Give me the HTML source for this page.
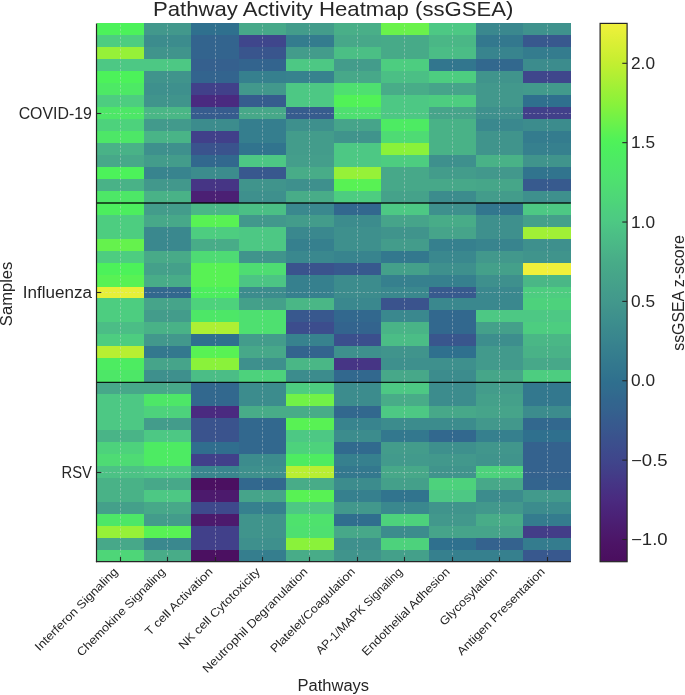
<!DOCTYPE html><html><head><meta charset="utf-8"><style>html,body{margin:0;padding:0;background:#fff;}svg{display:block;will-change:transform;}text{font-family:"Liberation Sans",sans-serif;}</style></head><body>
<svg width="685" height="695" viewBox="0 0 685 695">
<rect width="685" height="695" fill="#fff"/>
<g shape-rendering="crispEdges">
<rect x="96.50" y="23.40" width="47.73" height="12.26" fill="#4cf25a"/>
<rect x="96.50" y="35.36" width="47.73" height="12.26" fill="#4dcd80"/>
<rect x="96.50" y="47.32" width="47.73" height="12.26" fill="#96f138"/>
<rect x="96.50" y="59.28" width="47.73" height="12.26" fill="#4dc884"/>
<rect x="96.50" y="71.24" width="47.73" height="12.26" fill="#4cf25a"/>
<rect x="96.50" y="83.20" width="47.73" height="12.26" fill="#4de965"/>
<rect x="96.50" y="95.16" width="47.73" height="12.26" fill="#4dcd80"/>
<rect x="96.50" y="107.12" width="47.73" height="12.26" fill="#4de767"/>
<rect x="96.50" y="119.08" width="47.73" height="12.26" fill="#4dd27c"/>
<rect x="96.50" y="131.04" width="47.73" height="12.26" fill="#4de767"/>
<rect x="96.50" y="143.00" width="47.73" height="12.26" fill="#49b287"/>
<rect x="96.50" y="154.96" width="47.73" height="12.26" fill="#47a889"/>
<rect x="96.50" y="166.92" width="47.73" height="12.26" fill="#4cf25a"/>
<rect x="96.50" y="178.88" width="47.73" height="12.26" fill="#49b287"/>
<rect x="96.50" y="190.84" width="47.73" height="12.26" fill="#4de767"/>
<rect x="96.50" y="202.80" width="47.73" height="12.26" fill="#4cee5e"/>
<rect x="96.50" y="214.76" width="47.73" height="12.26" fill="#4dcd80"/>
<rect x="96.50" y="226.72" width="47.73" height="12.26" fill="#4dcd80"/>
<rect x="96.50" y="238.68" width="47.73" height="12.26" fill="#65f24d"/>
<rect x="96.50" y="250.64" width="47.73" height="12.26" fill="#4dcd80"/>
<rect x="96.50" y="262.60" width="47.73" height="12.26" fill="#4cf25a"/>
<rect x="96.50" y="274.56" width="47.73" height="12.26" fill="#58f254"/>
<rect x="96.50" y="286.52" width="47.73" height="12.26" fill="#e7f038"/>
<rect x="96.50" y="298.48" width="47.73" height="12.26" fill="#4dcd80"/>
<rect x="96.50" y="310.44" width="47.73" height="12.26" fill="#4dcd80"/>
<rect x="96.50" y="322.40" width="47.73" height="12.26" fill="#4bbd86"/>
<rect x="96.50" y="334.36" width="47.73" height="12.26" fill="#4dcd80"/>
<rect x="96.50" y="346.32" width="47.73" height="12.26" fill="#b8ef32"/>
<rect x="96.50" y="358.28" width="47.73" height="12.26" fill="#4dec61"/>
<rect x="96.50" y="370.24" width="47.73" height="12.26" fill="#4de767"/>
<rect x="96.50" y="382.20" width="47.73" height="12.26" fill="#47a889"/>
<rect x="96.50" y="394.16" width="47.73" height="12.26" fill="#4dc884"/>
<rect x="96.50" y="406.12" width="47.73" height="12.26" fill="#4dc884"/>
<rect x="96.50" y="418.08" width="47.73" height="12.26" fill="#4dc884"/>
<rect x="96.50" y="430.04" width="47.73" height="12.26" fill="#49b487"/>
<rect x="96.50" y="442.00" width="47.73" height="12.26" fill="#4dd27c"/>
<rect x="96.50" y="453.96" width="47.73" height="12.26" fill="#4edb74"/>
<rect x="96.50" y="465.92" width="47.73" height="12.26" fill="#4cc285"/>
<rect x="96.50" y="477.88" width="47.73" height="12.26" fill="#49b287"/>
<rect x="96.50" y="489.84" width="47.73" height="12.26" fill="#49b287"/>
<rect x="96.50" y="501.80" width="47.73" height="12.26" fill="#44a08a"/>
<rect x="96.50" y="513.76" width="47.73" height="12.26" fill="#4de767"/>
<rect x="96.50" y="525.72" width="47.73" height="12.26" fill="#96f138"/>
<rect x="96.50" y="537.68" width="47.73" height="12.26" fill="#47a889"/>
<rect x="96.50" y="549.64" width="47.73" height="12.26" fill="#4ed678"/>
<rect x="143.93" y="23.40" width="47.73" height="12.26" fill="#42988c"/>
<rect x="143.93" y="35.36" width="47.73" height="12.26" fill="#3c8c8d"/>
<rect x="143.93" y="47.32" width="47.73" height="12.26" fill="#40948c"/>
<rect x="143.93" y="59.28" width="47.73" height="12.26" fill="#4dc884"/>
<rect x="143.93" y="71.24" width="47.73" height="12.26" fill="#40948c"/>
<rect x="143.93" y="83.20" width="47.73" height="12.26" fill="#3e908d"/>
<rect x="143.93" y="95.16" width="47.73" height="12.26" fill="#40948c"/>
<rect x="143.93" y="107.12" width="47.73" height="12.26" fill="#4ab786"/>
<rect x="143.93" y="119.08" width="47.73" height="12.26" fill="#429a8c"/>
<rect x="143.93" y="131.04" width="47.73" height="12.26" fill="#49b487"/>
<rect x="143.93" y="143.00" width="47.73" height="12.26" fill="#3e908d"/>
<rect x="143.93" y="154.96" width="47.73" height="12.26" fill="#439c8b"/>
<rect x="143.93" y="166.92" width="47.73" height="12.26" fill="#38848e"/>
<rect x="143.93" y="178.88" width="47.73" height="12.26" fill="#42988c"/>
<rect x="143.93" y="190.84" width="47.73" height="12.26" fill="#49b287"/>
<rect x="143.93" y="202.80" width="47.73" height="12.26" fill="#439c8b"/>
<rect x="143.93" y="214.76" width="47.73" height="12.26" fill="#47a889"/>
<rect x="143.93" y="226.72" width="47.73" height="12.26" fill="#3a888e"/>
<rect x="143.93" y="238.68" width="47.73" height="12.26" fill="#3a888e"/>
<rect x="143.93" y="250.64" width="47.73" height="12.26" fill="#48aa88"/>
<rect x="143.93" y="262.60" width="47.73" height="12.26" fill="#44a08a"/>
<rect x="143.93" y="274.56" width="47.73" height="12.26" fill="#48ac88"/>
<rect x="143.93" y="286.52" width="47.73" height="12.26" fill="#32688e"/>
<rect x="143.93" y="298.48" width="47.73" height="12.26" fill="#46a48a"/>
<rect x="143.93" y="310.44" width="47.73" height="12.26" fill="#439c8b"/>
<rect x="143.93" y="322.40" width="47.73" height="12.26" fill="#49b287"/>
<rect x="143.93" y="334.36" width="47.73" height="12.26" fill="#42988c"/>
<rect x="143.93" y="346.32" width="47.73" height="12.26" fill="#33788e"/>
<rect x="143.93" y="358.28" width="47.73" height="12.26" fill="#46a48a"/>
<rect x="143.93" y="370.24" width="47.73" height="12.26" fill="#3e908d"/>
<rect x="143.93" y="382.20" width="47.73" height="12.26" fill="#47a889"/>
<rect x="143.93" y="394.16" width="47.73" height="12.26" fill="#4de767"/>
<rect x="143.93" y="406.12" width="47.73" height="12.26" fill="#4dd27c"/>
<rect x="143.93" y="418.08" width="47.73" height="12.26" fill="#439c8b"/>
<rect x="143.93" y="430.04" width="47.73" height="12.26" fill="#4dc884"/>
<rect x="143.93" y="442.00" width="47.73" height="12.26" fill="#4deb63"/>
<rect x="143.93" y="453.96" width="47.73" height="12.26" fill="#4deb63"/>
<rect x="143.93" y="465.92" width="47.73" height="12.26" fill="#4dc884"/>
<rect x="143.93" y="477.88" width="47.73" height="12.26" fill="#47a889"/>
<rect x="143.93" y="489.84" width="47.73" height="12.26" fill="#4dc884"/>
<rect x="143.93" y="501.80" width="47.73" height="12.26" fill="#47a889"/>
<rect x="143.93" y="513.76" width="47.73" height="12.26" fill="#439c8b"/>
<rect x="143.93" y="525.72" width="47.73" height="12.26" fill="#58f254"/>
<rect x="143.93" y="537.68" width="47.73" height="12.26" fill="#3a888e"/>
<rect x="143.93" y="549.64" width="47.73" height="12.26" fill="#48ac88"/>
<rect x="191.36" y="23.40" width="47.73" height="12.26" fill="#2f708e"/>
<rect x="191.36" y="35.36" width="47.73" height="12.26" fill="#33648e"/>
<rect x="191.36" y="47.32" width="47.73" height="12.26" fill="#33648e"/>
<rect x="191.36" y="59.28" width="47.73" height="12.26" fill="#35608e"/>
<rect x="191.36" y="71.24" width="47.73" height="12.26" fill="#33648e"/>
<rect x="191.36" y="83.20" width="47.73" height="12.26" fill="#41408a"/>
<rect x="191.36" y="95.16" width="47.73" height="12.26" fill="#4a2a80"/>
<rect x="191.36" y="107.12" width="47.73" height="12.26" fill="#365c8e"/>
<rect x="191.36" y="119.08" width="47.73" height="12.26" fill="#3c8c8d"/>
<rect x="191.36" y="131.04" width="47.73" height="12.26" fill="#41408a"/>
<rect x="191.36" y="143.00" width="47.73" height="12.26" fill="#3a538d"/>
<rect x="191.36" y="154.96" width="47.73" height="12.26" fill="#32688e"/>
<rect x="191.36" y="166.92" width="47.73" height="12.26" fill="#3c8c8d"/>
<rect x="191.36" y="178.88" width="47.73" height="12.26" fill="#463585"/>
<rect x="191.36" y="190.84" width="47.73" height="12.26" fill="#4b2074"/>
<rect x="191.36" y="202.80" width="47.73" height="12.26" fill="#4ab786"/>
<rect x="191.36" y="214.76" width="47.73" height="12.26" fill="#58f254"/>
<rect x="191.36" y="226.72" width="47.73" height="12.26" fill="#4dcd80"/>
<rect x="191.36" y="238.68" width="47.73" height="12.26" fill="#48ac88"/>
<rect x="191.36" y="250.64" width="47.73" height="12.26" fill="#4edb74"/>
<rect x="191.36" y="262.60" width="47.73" height="12.26" fill="#58f254"/>
<rect x="191.36" y="274.56" width="47.73" height="12.26" fill="#58f254"/>
<rect x="191.36" y="286.52" width="47.73" height="12.26" fill="#4cee5e"/>
<rect x="191.36" y="298.48" width="47.73" height="12.26" fill="#4dd27c"/>
<rect x="191.36" y="310.44" width="47.73" height="12.26" fill="#4de767"/>
<rect x="191.36" y="322.40" width="47.73" height="12.26" fill="#adf034"/>
<rect x="191.36" y="334.36" width="47.73" height="12.26" fill="#2f708e"/>
<rect x="191.36" y="346.32" width="47.73" height="12.26" fill="#58f254"/>
<rect x="191.36" y="358.28" width="47.73" height="12.26" fill="#8af23a"/>
<rect x="191.36" y="370.24" width="47.73" height="12.26" fill="#4bbd86"/>
<rect x="191.36" y="382.20" width="47.73" height="12.26" fill="#32688e"/>
<rect x="191.36" y="394.16" width="47.73" height="12.26" fill="#32688e"/>
<rect x="191.36" y="406.12" width="47.73" height="12.26" fill="#4a2a80"/>
<rect x="191.36" y="418.08" width="47.73" height="12.26" fill="#3a538d"/>
<rect x="191.36" y="430.04" width="47.73" height="12.26" fill="#3a538d"/>
<rect x="191.36" y="442.00" width="47.73" height="12.26" fill="#306e8e"/>
<rect x="191.36" y="453.96" width="47.73" height="12.26" fill="#41408a"/>
<rect x="191.36" y="465.92" width="47.73" height="12.26" fill="#39868e"/>
<rect x="191.36" y="477.88" width="47.73" height="12.26" fill="#4b1061"/>
<rect x="191.36" y="489.84" width="47.73" height="12.26" fill="#4c1a6d"/>
<rect x="191.36" y="501.80" width="47.73" height="12.26" fill="#3e498c"/>
<rect x="191.36" y="513.76" width="47.73" height="12.26" fill="#4c1a6d"/>
<rect x="191.36" y="525.72" width="47.73" height="12.26" fill="#41408a"/>
<rect x="191.36" y="537.68" width="47.73" height="12.26" fill="#41408a"/>
<rect x="191.36" y="549.64" width="47.73" height="12.26" fill="#4b1061"/>
<rect x="238.79" y="23.40" width="47.73" height="12.26" fill="#47a889"/>
<rect x="238.79" y="35.36" width="47.73" height="12.26" fill="#3f468c"/>
<rect x="238.79" y="47.32" width="47.73" height="12.26" fill="#39558d"/>
<rect x="238.79" y="59.28" width="47.73" height="12.26" fill="#33648e"/>
<rect x="238.79" y="71.24" width="47.73" height="12.26" fill="#36808e"/>
<rect x="238.79" y="83.20" width="47.73" height="12.26" fill="#42988c"/>
<rect x="238.79" y="95.16" width="47.73" height="12.26" fill="#365c8e"/>
<rect x="238.79" y="107.12" width="47.73" height="12.26" fill="#47a889"/>
<rect x="238.79" y="119.08" width="47.73" height="12.26" fill="#357e8e"/>
<rect x="238.79" y="131.04" width="47.73" height="12.26" fill="#357e8e"/>
<rect x="238.79" y="143.00" width="47.73" height="12.26" fill="#31748e"/>
<rect x="238.79" y="154.96" width="47.73" height="12.26" fill="#4dc884"/>
<rect x="238.79" y="166.92" width="47.73" height="12.26" fill="#38588e"/>
<rect x="238.79" y="178.88" width="47.73" height="12.26" fill="#40948c"/>
<rect x="238.79" y="190.84" width="47.73" height="12.26" fill="#3e908d"/>
<rect x="238.79" y="202.80" width="47.73" height="12.26" fill="#4bbf85"/>
<rect x="238.79" y="214.76" width="47.73" height="12.26" fill="#42988c"/>
<rect x="238.79" y="226.72" width="47.73" height="12.26" fill="#4dc884"/>
<rect x="238.79" y="238.68" width="47.73" height="12.26" fill="#4dc884"/>
<rect x="238.79" y="250.64" width="47.73" height="12.26" fill="#40948c"/>
<rect x="238.79" y="262.60" width="47.73" height="12.26" fill="#4edd72"/>
<rect x="238.79" y="274.56" width="47.73" height="12.26" fill="#4cc584"/>
<rect x="238.79" y="286.52" width="47.73" height="12.26" fill="#3c8c8d"/>
<rect x="238.79" y="298.48" width="47.73" height="12.26" fill="#44a08a"/>
<rect x="238.79" y="310.44" width="47.73" height="12.26" fill="#4ee070"/>
<rect x="238.79" y="322.40" width="47.73" height="12.26" fill="#4ee070"/>
<rect x="238.79" y="334.36" width="47.73" height="12.26" fill="#439c8b"/>
<rect x="238.79" y="346.32" width="47.73" height="12.26" fill="#47a889"/>
<rect x="238.79" y="358.28" width="47.73" height="12.26" fill="#3e908d"/>
<rect x="238.79" y="370.24" width="47.73" height="12.26" fill="#4dd27c"/>
<rect x="238.79" y="382.20" width="47.73" height="12.26" fill="#3c8c8d"/>
<rect x="238.79" y="394.16" width="47.73" height="12.26" fill="#3c8c8d"/>
<rect x="238.79" y="406.12" width="47.73" height="12.26" fill="#48ac88"/>
<rect x="238.79" y="418.08" width="47.73" height="12.26" fill="#32688e"/>
<rect x="238.79" y="430.04" width="47.73" height="12.26" fill="#32688e"/>
<rect x="238.79" y="442.00" width="47.73" height="12.26" fill="#32688e"/>
<rect x="238.79" y="453.96" width="47.73" height="12.26" fill="#3c8c8d"/>
<rect x="238.79" y="465.92" width="47.73" height="12.26" fill="#3e908d"/>
<rect x="238.79" y="477.88" width="47.73" height="12.26" fill="#32688e"/>
<rect x="238.79" y="489.84" width="47.73" height="12.26" fill="#46a48a"/>
<rect x="238.79" y="501.80" width="47.73" height="12.26" fill="#36808e"/>
<rect x="238.79" y="513.76" width="47.73" height="12.26" fill="#40948c"/>
<rect x="238.79" y="525.72" width="47.73" height="12.26" fill="#40948c"/>
<rect x="238.79" y="537.68" width="47.73" height="12.26" fill="#3e908d"/>
<rect x="238.79" y="549.64" width="47.73" height="12.26" fill="#357e8e"/>
<rect x="286.22" y="23.40" width="47.73" height="12.26" fill="#439c8b"/>
<rect x="286.22" y="35.36" width="47.73" height="12.26" fill="#347c8e"/>
<rect x="286.22" y="47.32" width="47.73" height="12.26" fill="#439c8b"/>
<rect x="286.22" y="59.28" width="47.73" height="12.26" fill="#4dc884"/>
<rect x="286.22" y="71.24" width="47.73" height="12.26" fill="#37828e"/>
<rect x="286.22" y="83.20" width="47.73" height="12.26" fill="#4dc884"/>
<rect x="286.22" y="95.16" width="47.73" height="12.26" fill="#4dc884"/>
<rect x="286.22" y="107.12" width="47.73" height="12.26" fill="#365c8e"/>
<rect x="286.22" y="119.08" width="47.73" height="12.26" fill="#3e908d"/>
<rect x="286.22" y="131.04" width="47.73" height="12.26" fill="#439c8b"/>
<rect x="286.22" y="143.00" width="47.73" height="12.26" fill="#439c8b"/>
<rect x="286.22" y="154.96" width="47.73" height="12.26" fill="#449e8b"/>
<rect x="286.22" y="166.92" width="47.73" height="12.26" fill="#48ac88"/>
<rect x="286.22" y="178.88" width="47.73" height="12.26" fill="#3e908d"/>
<rect x="286.22" y="190.84" width="47.73" height="12.26" fill="#48ac88"/>
<rect x="286.22" y="202.80" width="47.73" height="12.26" fill="#3a888e"/>
<rect x="286.22" y="214.76" width="47.73" height="12.26" fill="#439c8b"/>
<rect x="286.22" y="226.72" width="47.73" height="12.26" fill="#3a888e"/>
<rect x="286.22" y="238.68" width="47.73" height="12.26" fill="#36808e"/>
<rect x="286.22" y="250.64" width="47.73" height="12.26" fill="#3a888e"/>
<rect x="286.22" y="262.60" width="47.73" height="12.26" fill="#3a538d"/>
<rect x="286.22" y="274.56" width="47.73" height="12.26" fill="#36808e"/>
<rect x="286.22" y="286.52" width="47.73" height="12.26" fill="#36808e"/>
<rect x="286.22" y="298.48" width="47.73" height="12.26" fill="#4ab786"/>
<rect x="286.22" y="310.44" width="47.73" height="12.26" fill="#38588e"/>
<rect x="286.22" y="322.40" width="47.73" height="12.26" fill="#3c4d8d"/>
<rect x="286.22" y="334.36" width="47.73" height="12.26" fill="#37828e"/>
<rect x="286.22" y="346.32" width="47.73" height="12.26" fill="#33648e"/>
<rect x="286.22" y="358.28" width="47.73" height="12.26" fill="#4ab786"/>
<rect x="286.22" y="370.24" width="47.73" height="12.26" fill="#3c8c8d"/>
<rect x="286.22" y="382.20" width="47.73" height="12.26" fill="#4dcd80"/>
<rect x="286.22" y="394.16" width="47.73" height="12.26" fill="#71f247"/>
<rect x="286.22" y="406.12" width="47.73" height="12.26" fill="#48ac88"/>
<rect x="286.22" y="418.08" width="47.73" height="12.26" fill="#58f254"/>
<rect x="286.22" y="430.04" width="47.73" height="12.26" fill="#4dc884"/>
<rect x="286.22" y="442.00" width="47.73" height="12.26" fill="#4dd27c"/>
<rect x="286.22" y="453.96" width="47.73" height="12.26" fill="#4dec61"/>
<rect x="286.22" y="465.92" width="47.73" height="12.26" fill="#b8ef32"/>
<rect x="286.22" y="477.88" width="47.73" height="12.26" fill="#48ac88"/>
<rect x="286.22" y="489.84" width="47.73" height="12.26" fill="#58f254"/>
<rect x="286.22" y="501.80" width="47.73" height="12.26" fill="#4dc884"/>
<rect x="286.22" y="513.76" width="47.73" height="12.26" fill="#4ee26d"/>
<rect x="286.22" y="525.72" width="47.73" height="12.26" fill="#4ee070"/>
<rect x="286.22" y="537.68" width="47.73" height="12.26" fill="#8af23a"/>
<rect x="286.22" y="549.64" width="47.73" height="12.26" fill="#48ac88"/>
<rect x="333.65" y="23.40" width="47.73" height="12.26" fill="#49af88"/>
<rect x="333.65" y="35.36" width="47.73" height="12.26" fill="#47a889"/>
<rect x="333.65" y="47.32" width="47.73" height="12.26" fill="#4bbf85"/>
<rect x="333.65" y="59.28" width="47.73" height="12.26" fill="#439c8b"/>
<rect x="333.65" y="71.24" width="47.73" height="12.26" fill="#47a889"/>
<rect x="333.65" y="83.20" width="47.73" height="12.26" fill="#4ee070"/>
<rect x="333.65" y="95.16" width="47.73" height="12.26" fill="#51f257"/>
<rect x="333.65" y="107.12" width="47.73" height="12.26" fill="#4ee070"/>
<rect x="333.65" y="119.08" width="47.73" height="12.26" fill="#46a48a"/>
<rect x="333.65" y="131.04" width="47.73" height="12.26" fill="#40948c"/>
<rect x="333.65" y="143.00" width="47.73" height="12.26" fill="#4dc884"/>
<rect x="333.65" y="154.96" width="47.73" height="12.26" fill="#4dc884"/>
<rect x="333.65" y="166.92" width="47.73" height="12.26" fill="#96f138"/>
<rect x="333.65" y="178.88" width="47.73" height="12.26" fill="#58f254"/>
<rect x="333.65" y="190.84" width="47.73" height="12.26" fill="#4dcd80"/>
<rect x="333.65" y="202.80" width="47.73" height="12.26" fill="#32688e"/>
<rect x="333.65" y="214.76" width="47.73" height="12.26" fill="#3c8c8d"/>
<rect x="333.65" y="226.72" width="47.73" height="12.26" fill="#3e908d"/>
<rect x="333.65" y="238.68" width="47.73" height="12.26" fill="#3e908d"/>
<rect x="333.65" y="250.64" width="47.73" height="12.26" fill="#38848e"/>
<rect x="333.65" y="262.60" width="47.73" height="12.26" fill="#37598e"/>
<rect x="333.65" y="274.56" width="47.73" height="12.26" fill="#3c8c8d"/>
<rect x="333.65" y="286.52" width="47.73" height="12.26" fill="#3c8c8d"/>
<rect x="333.65" y="298.48" width="47.73" height="12.26" fill="#3a888e"/>
<rect x="333.65" y="310.44" width="47.73" height="12.26" fill="#32688e"/>
<rect x="333.65" y="322.40" width="47.73" height="12.26" fill="#33648e"/>
<rect x="333.65" y="334.36" width="47.73" height="12.26" fill="#3b4f8d"/>
<rect x="333.65" y="346.32" width="47.73" height="12.26" fill="#3e908d"/>
<rect x="333.65" y="358.28" width="47.73" height="12.26" fill="#463585"/>
<rect x="333.65" y="370.24" width="47.73" height="12.26" fill="#32688e"/>
<rect x="333.65" y="382.20" width="47.73" height="12.26" fill="#3c8c8d"/>
<rect x="333.65" y="394.16" width="47.73" height="12.26" fill="#3c8c8d"/>
<rect x="333.65" y="406.12" width="47.73" height="12.26" fill="#32688e"/>
<rect x="333.65" y="418.08" width="47.73" height="12.26" fill="#38848e"/>
<rect x="333.65" y="430.04" width="47.73" height="12.26" fill="#3c8c8d"/>
<rect x="333.65" y="442.00" width="47.73" height="12.26" fill="#316a8e"/>
<rect x="333.65" y="453.96" width="47.73" height="12.26" fill="#36808e"/>
<rect x="333.65" y="465.92" width="47.73" height="12.26" fill="#33788e"/>
<rect x="333.65" y="477.88" width="47.73" height="12.26" fill="#3c8c8d"/>
<rect x="333.65" y="489.84" width="47.73" height="12.26" fill="#36808e"/>
<rect x="333.65" y="501.80" width="47.73" height="12.26" fill="#42988c"/>
<rect x="333.65" y="513.76" width="47.73" height="12.26" fill="#306e8e"/>
<rect x="333.65" y="525.72" width="47.73" height="12.26" fill="#47a889"/>
<rect x="333.65" y="537.68" width="47.73" height="12.26" fill="#3e908d"/>
<rect x="333.65" y="549.64" width="47.73" height="12.26" fill="#40948c"/>
<rect x="381.08" y="23.40" width="47.73" height="12.26" fill="#6af24b"/>
<rect x="381.08" y="35.36" width="47.73" height="12.26" fill="#47aa88"/>
<rect x="381.08" y="47.32" width="47.73" height="12.26" fill="#47aa88"/>
<rect x="381.08" y="59.28" width="47.73" height="12.26" fill="#4dcd80"/>
<rect x="381.08" y="71.24" width="47.73" height="12.26" fill="#4bbf85"/>
<rect x="381.08" y="83.20" width="47.73" height="12.26" fill="#48ac88"/>
<rect x="381.08" y="95.16" width="47.73" height="12.26" fill="#4dc884"/>
<rect x="381.08" y="107.12" width="47.73" height="12.26" fill="#4dc884"/>
<rect x="381.08" y="119.08" width="47.73" height="12.26" fill="#4deb63"/>
<rect x="381.08" y="131.04" width="47.73" height="12.26" fill="#4edb74"/>
<rect x="381.08" y="143.00" width="47.73" height="12.26" fill="#8af23a"/>
<rect x="381.08" y="154.96" width="47.73" height="12.26" fill="#4dcd80"/>
<rect x="381.08" y="166.92" width="47.73" height="12.26" fill="#47a889"/>
<rect x="381.08" y="178.88" width="47.73" height="12.26" fill="#47a889"/>
<rect x="381.08" y="190.84" width="47.73" height="12.26" fill="#45a28a"/>
<rect x="381.08" y="202.80" width="47.73" height="12.26" fill="#4dc884"/>
<rect x="381.08" y="214.76" width="47.73" height="12.26" fill="#46a48a"/>
<rect x="381.08" y="226.72" width="47.73" height="12.26" fill="#40948c"/>
<rect x="381.08" y="238.68" width="47.73" height="12.26" fill="#439c8b"/>
<rect x="381.08" y="250.64" width="47.73" height="12.26" fill="#33788e"/>
<rect x="381.08" y="262.60" width="47.73" height="12.26" fill="#44a08a"/>
<rect x="381.08" y="274.56" width="47.73" height="12.26" fill="#36808e"/>
<rect x="381.08" y="286.52" width="47.73" height="12.26" fill="#3a888e"/>
<rect x="381.08" y="298.48" width="47.73" height="12.26" fill="#3a538d"/>
<rect x="381.08" y="310.44" width="47.73" height="12.26" fill="#3a888e"/>
<rect x="381.08" y="322.40" width="47.73" height="12.26" fill="#49b487"/>
<rect x="381.08" y="334.36" width="47.73" height="12.26" fill="#4bbd86"/>
<rect x="381.08" y="346.32" width="47.73" height="12.26" fill="#40948c"/>
<rect x="381.08" y="358.28" width="47.73" height="12.26" fill="#3e908d"/>
<rect x="381.08" y="370.24" width="47.73" height="12.26" fill="#47a889"/>
<rect x="381.08" y="382.20" width="47.73" height="12.26" fill="#4dc884"/>
<rect x="381.08" y="394.16" width="47.73" height="12.26" fill="#48ac88"/>
<rect x="381.08" y="406.12" width="47.73" height="12.26" fill="#4dc884"/>
<rect x="381.08" y="418.08" width="47.73" height="12.26" fill="#3c8c8d"/>
<rect x="381.08" y="430.04" width="47.73" height="12.26" fill="#33788e"/>
<rect x="381.08" y="442.00" width="47.73" height="12.26" fill="#439c8b"/>
<rect x="381.08" y="453.96" width="47.73" height="12.26" fill="#429a8c"/>
<rect x="381.08" y="465.92" width="47.73" height="12.26" fill="#47a889"/>
<rect x="381.08" y="477.88" width="47.73" height="12.26" fill="#44a08a"/>
<rect x="381.08" y="489.84" width="47.73" height="12.26" fill="#31748e"/>
<rect x="381.08" y="501.80" width="47.73" height="12.26" fill="#3a888e"/>
<rect x="381.08" y="513.76" width="47.73" height="12.26" fill="#4dd27c"/>
<rect x="381.08" y="525.72" width="47.73" height="12.26" fill="#3c8c8d"/>
<rect x="381.08" y="537.68" width="47.73" height="12.26" fill="#4dd27c"/>
<rect x="381.08" y="549.64" width="47.73" height="12.26" fill="#44a08a"/>
<rect x="428.51" y="23.40" width="47.73" height="12.26" fill="#4dc884"/>
<rect x="428.51" y="35.36" width="47.73" height="12.26" fill="#4ab786"/>
<rect x="428.51" y="47.32" width="47.73" height="12.26" fill="#4bbd86"/>
<rect x="428.51" y="59.28" width="47.73" height="12.26" fill="#32768e"/>
<rect x="428.51" y="71.24" width="47.73" height="12.26" fill="#4dcd80"/>
<rect x="428.51" y="83.20" width="47.73" height="12.26" fill="#46a48a"/>
<rect x="428.51" y="95.16" width="47.73" height="12.26" fill="#4dcd80"/>
<rect x="428.51" y="107.12" width="47.73" height="12.26" fill="#46a48a"/>
<rect x="428.51" y="119.08" width="47.73" height="12.26" fill="#49b287"/>
<rect x="428.51" y="131.04" width="47.73" height="12.26" fill="#49b287"/>
<rect x="428.51" y="143.00" width="47.73" height="12.26" fill="#49b287"/>
<rect x="428.51" y="154.96" width="47.73" height="12.26" fill="#3e908d"/>
<rect x="428.51" y="166.92" width="47.73" height="12.26" fill="#439c8b"/>
<rect x="428.51" y="178.88" width="47.73" height="12.26" fill="#47a889"/>
<rect x="428.51" y="190.84" width="47.73" height="12.26" fill="#3c8c8d"/>
<rect x="428.51" y="202.80" width="47.73" height="12.26" fill="#3e908d"/>
<rect x="428.51" y="214.76" width="47.73" height="12.26" fill="#48ac88"/>
<rect x="428.51" y="226.72" width="47.73" height="12.26" fill="#46a48a"/>
<rect x="428.51" y="238.68" width="47.73" height="12.26" fill="#36808e"/>
<rect x="428.51" y="250.64" width="47.73" height="12.26" fill="#3a888e"/>
<rect x="428.51" y="262.60" width="47.73" height="12.26" fill="#3e908d"/>
<rect x="428.51" y="274.56" width="47.73" height="12.26" fill="#36808e"/>
<rect x="428.51" y="286.52" width="47.73" height="12.26" fill="#375a8e"/>
<rect x="428.51" y="298.48" width="47.73" height="12.26" fill="#3a888e"/>
<rect x="428.51" y="310.44" width="47.73" height="12.26" fill="#32688e"/>
<rect x="428.51" y="322.40" width="47.73" height="12.26" fill="#32688e"/>
<rect x="428.51" y="334.36" width="47.73" height="12.26" fill="#39568d"/>
<rect x="428.51" y="346.32" width="47.73" height="12.26" fill="#2f708e"/>
<rect x="428.51" y="358.28" width="47.73" height="12.26" fill="#3e908d"/>
<rect x="428.51" y="370.24" width="47.73" height="12.26" fill="#3c8c8d"/>
<rect x="428.51" y="382.20" width="47.73" height="12.26" fill="#3c8c8d"/>
<rect x="428.51" y="394.16" width="47.73" height="12.26" fill="#3c8c8d"/>
<rect x="428.51" y="406.12" width="47.73" height="12.26" fill="#47a889"/>
<rect x="428.51" y="418.08" width="47.73" height="12.26" fill="#3c8c8d"/>
<rect x="428.51" y="430.04" width="47.73" height="12.26" fill="#32688e"/>
<rect x="428.51" y="442.00" width="47.73" height="12.26" fill="#3e908d"/>
<rect x="428.51" y="453.96" width="47.73" height="12.26" fill="#42988c"/>
<rect x="428.51" y="465.92" width="47.73" height="12.26" fill="#40948c"/>
<rect x="428.51" y="477.88" width="47.73" height="12.26" fill="#4dd27c"/>
<rect x="428.51" y="489.84" width="47.73" height="12.26" fill="#4dc884"/>
<rect x="428.51" y="501.80" width="47.73" height="12.26" fill="#40948c"/>
<rect x="428.51" y="513.76" width="47.73" height="12.26" fill="#42988c"/>
<rect x="428.51" y="525.72" width="47.73" height="12.26" fill="#46a48a"/>
<rect x="428.51" y="537.68" width="47.73" height="12.26" fill="#2f708e"/>
<rect x="428.51" y="549.64" width="47.73" height="12.26" fill="#36808e"/>
<rect x="475.94" y="23.40" width="47.73" height="12.26" fill="#3a888e"/>
<rect x="475.94" y="35.36" width="47.73" height="12.26" fill="#33788e"/>
<rect x="475.94" y="47.32" width="47.73" height="12.26" fill="#38848e"/>
<rect x="475.94" y="59.28" width="47.73" height="12.26" fill="#32688e"/>
<rect x="475.94" y="71.24" width="47.73" height="12.26" fill="#40948c"/>
<rect x="475.94" y="83.20" width="47.73" height="12.26" fill="#42988c"/>
<rect x="475.94" y="95.16" width="47.73" height="12.26" fill="#42988c"/>
<rect x="475.94" y="107.12" width="47.73" height="12.26" fill="#3e908d"/>
<rect x="475.94" y="119.08" width="47.73" height="12.26" fill="#3a888e"/>
<rect x="475.94" y="131.04" width="47.73" height="12.26" fill="#40948c"/>
<rect x="475.94" y="143.00" width="47.73" height="12.26" fill="#40948c"/>
<rect x="475.94" y="154.96" width="47.73" height="12.26" fill="#49b287"/>
<rect x="475.94" y="166.92" width="47.73" height="12.26" fill="#42988c"/>
<rect x="475.94" y="178.88" width="47.73" height="12.26" fill="#46a689"/>
<rect x="475.94" y="190.84" width="47.73" height="12.26" fill="#439c8b"/>
<rect x="475.94" y="202.80" width="47.73" height="12.26" fill="#32768e"/>
<rect x="475.94" y="214.76" width="47.73" height="12.26" fill="#3e908d"/>
<rect x="475.94" y="226.72" width="47.73" height="12.26" fill="#3e908d"/>
<rect x="475.94" y="238.68" width="47.73" height="12.26" fill="#38848e"/>
<rect x="475.94" y="250.64" width="47.73" height="12.26" fill="#42988c"/>
<rect x="475.94" y="262.60" width="47.73" height="12.26" fill="#44a08a"/>
<rect x="475.94" y="274.56" width="47.73" height="12.26" fill="#3e908d"/>
<rect x="475.94" y="286.52" width="47.73" height="12.26" fill="#3a888e"/>
<rect x="475.94" y="298.48" width="47.73" height="12.26" fill="#3a888e"/>
<rect x="475.94" y="310.44" width="47.73" height="12.26" fill="#4dc884"/>
<rect x="475.94" y="322.40" width="47.73" height="12.26" fill="#44a08a"/>
<rect x="475.94" y="334.36" width="47.73" height="12.26" fill="#3d8e8d"/>
<rect x="475.94" y="346.32" width="47.73" height="12.26" fill="#429a8c"/>
<rect x="475.94" y="358.28" width="47.73" height="12.26" fill="#429a8c"/>
<rect x="475.94" y="370.24" width="47.73" height="12.26" fill="#46a689"/>
<rect x="475.94" y="382.20" width="47.73" height="12.26" fill="#439c8b"/>
<rect x="475.94" y="394.16" width="47.73" height="12.26" fill="#44a08a"/>
<rect x="475.94" y="406.12" width="47.73" height="12.26" fill="#46a48a"/>
<rect x="475.94" y="418.08" width="47.73" height="12.26" fill="#42988c"/>
<rect x="475.94" y="430.04" width="47.73" height="12.26" fill="#36808e"/>
<rect x="475.94" y="442.00" width="47.73" height="12.26" fill="#41968c"/>
<rect x="475.94" y="453.96" width="47.73" height="12.26" fill="#40948c"/>
<rect x="475.94" y="465.92" width="47.73" height="12.26" fill="#4dd27c"/>
<rect x="475.94" y="477.88" width="47.73" height="12.26" fill="#47a889"/>
<rect x="475.94" y="489.84" width="47.73" height="12.26" fill="#3c8c8d"/>
<rect x="475.94" y="501.80" width="47.73" height="12.26" fill="#42988c"/>
<rect x="475.94" y="513.76" width="47.73" height="12.26" fill="#48ac88"/>
<rect x="475.94" y="525.72" width="47.73" height="12.26" fill="#46a48a"/>
<rect x="475.94" y="537.68" width="47.73" height="12.26" fill="#34628e"/>
<rect x="475.94" y="549.64" width="47.73" height="12.26" fill="#36808e"/>
<rect x="523.37" y="23.40" width="47.73" height="12.26" fill="#3f928d"/>
<rect x="523.37" y="35.36" width="47.73" height="12.26" fill="#38588e"/>
<rect x="523.37" y="47.32" width="47.73" height="12.26" fill="#347c8e"/>
<rect x="523.37" y="59.28" width="47.73" height="12.26" fill="#3c8c8d"/>
<rect x="523.37" y="71.24" width="47.73" height="12.26" fill="#3f468c"/>
<rect x="523.37" y="83.20" width="47.73" height="12.26" fill="#429a8c"/>
<rect x="523.37" y="95.16" width="47.73" height="12.26" fill="#2f708e"/>
<rect x="523.37" y="107.12" width="47.73" height="12.26" fill="#41408a"/>
<rect x="523.37" y="119.08" width="47.73" height="12.26" fill="#3c8c8d"/>
<rect x="523.37" y="131.04" width="47.73" height="12.26" fill="#347c8e"/>
<rect x="523.37" y="143.00" width="47.73" height="12.26" fill="#36808e"/>
<rect x="523.37" y="154.96" width="47.73" height="12.26" fill="#40948c"/>
<rect x="523.37" y="166.92" width="47.73" height="12.26" fill="#31748e"/>
<rect x="523.37" y="178.88" width="47.73" height="12.26" fill="#375a8e"/>
<rect x="523.37" y="190.84" width="47.73" height="12.26" fill="#3e908d"/>
<rect x="523.37" y="202.80" width="47.73" height="12.26" fill="#4dc884"/>
<rect x="523.37" y="214.76" width="47.73" height="12.26" fill="#44a08a"/>
<rect x="523.37" y="226.72" width="47.73" height="12.26" fill="#a1f036"/>
<rect x="523.37" y="238.68" width="47.73" height="12.26" fill="#3e908d"/>
<rect x="523.37" y="250.64" width="47.73" height="12.26" fill="#40948c"/>
<rect x="523.37" y="262.60" width="47.73" height="12.26" fill="#f0f03a"/>
<rect x="523.37" y="274.56" width="47.73" height="12.26" fill="#4ab786"/>
<rect x="523.37" y="286.52" width="47.73" height="12.26" fill="#4dcd80"/>
<rect x="523.37" y="298.48" width="47.73" height="12.26" fill="#4dd27c"/>
<rect x="523.37" y="310.44" width="47.73" height="12.26" fill="#4dc884"/>
<rect x="523.37" y="322.40" width="47.73" height="12.26" fill="#4dcd80"/>
<rect x="523.37" y="334.36" width="47.73" height="12.26" fill="#4ab786"/>
<rect x="523.37" y="346.32" width="47.73" height="12.26" fill="#49b287"/>
<rect x="523.37" y="358.28" width="47.73" height="12.26" fill="#47a889"/>
<rect x="523.37" y="370.24" width="47.73" height="12.26" fill="#4dcd80"/>
<rect x="523.37" y="382.20" width="47.73" height="12.26" fill="#33788e"/>
<rect x="523.37" y="394.16" width="47.73" height="12.26" fill="#33788e"/>
<rect x="523.37" y="406.12" width="47.73" height="12.26" fill="#3c8c8d"/>
<rect x="523.37" y="418.08" width="47.73" height="12.26" fill="#32688e"/>
<rect x="523.37" y="430.04" width="47.73" height="12.26" fill="#2f708e"/>
<rect x="523.37" y="442.00" width="47.73" height="12.26" fill="#34628e"/>
<rect x="523.37" y="453.96" width="47.73" height="12.26" fill="#34628e"/>
<rect x="523.37" y="465.92" width="47.73" height="12.26" fill="#34628e"/>
<rect x="523.37" y="477.88" width="47.73" height="12.26" fill="#33648e"/>
<rect x="523.37" y="489.84" width="47.73" height="12.26" fill="#429a8c"/>
<rect x="523.37" y="501.80" width="47.73" height="12.26" fill="#3c8c8d"/>
<rect x="523.37" y="513.76" width="47.73" height="12.26" fill="#347c8e"/>
<rect x="523.37" y="525.72" width="47.73" height="12.26" fill="#433d88"/>
<rect x="523.37" y="537.68" width="47.73" height="12.26" fill="#347c8e"/>
<rect x="523.37" y="549.64" width="47.73" height="12.26" fill="#38588e"/>
</g>
<line x1="120.50" y1="23.4" x2="120.50" y2="561.6" stroke="#e0e0e0" stroke-opacity="0.45" stroke-width="0.8" stroke-dasharray="2.45,1.58" stroke-dashoffset="2.8"/>
<line x1="167.50" y1="23.4" x2="167.50" y2="561.6" stroke="#e0e0e0" stroke-opacity="0.45" stroke-width="0.8" stroke-dasharray="2.45,1.58" stroke-dashoffset="2.8"/>
<line x1="215.50" y1="23.4" x2="215.50" y2="561.6" stroke="#e0e0e0" stroke-opacity="0.45" stroke-width="0.8" stroke-dasharray="2.45,1.58" stroke-dashoffset="2.8"/>
<line x1="262.50" y1="23.4" x2="262.50" y2="561.6" stroke="#e0e0e0" stroke-opacity="0.45" stroke-width="0.8" stroke-dasharray="2.45,1.58" stroke-dashoffset="2.8"/>
<line x1="309.50" y1="23.4" x2="309.50" y2="561.6" stroke="#e0e0e0" stroke-opacity="0.45" stroke-width="0.8" stroke-dasharray="2.45,1.58" stroke-dashoffset="2.8"/>
<line x1="357.50" y1="23.4" x2="357.50" y2="561.6" stroke="#e0e0e0" stroke-opacity="0.45" stroke-width="0.8" stroke-dasharray="2.45,1.58" stroke-dashoffset="2.8"/>
<line x1="404.50" y1="23.4" x2="404.50" y2="561.6" stroke="#e0e0e0" stroke-opacity="0.45" stroke-width="0.8" stroke-dasharray="2.45,1.58" stroke-dashoffset="2.8"/>
<line x1="452.50" y1="23.4" x2="452.50" y2="561.6" stroke="#e0e0e0" stroke-opacity="0.45" stroke-width="0.8" stroke-dasharray="2.45,1.58" stroke-dashoffset="2.8"/>
<line x1="499.50" y1="23.4" x2="499.50" y2="561.6" stroke="#e0e0e0" stroke-opacity="0.45" stroke-width="0.8" stroke-dasharray="2.45,1.58" stroke-dashoffset="2.8"/>
<line x1="547.50" y1="23.4" x2="547.50" y2="561.6" stroke="#e0e0e0" stroke-opacity="0.45" stroke-width="0.8" stroke-dasharray="2.45,1.58" stroke-dashoffset="2.8"/>
<line x1="96.5" y1="113.50" x2="570.8" y2="113.50" stroke="#e0e0e0" stroke-opacity="0.45" stroke-width="0.8" stroke-dasharray="2.4,1.56" stroke-dashoffset="3.12"/>
<line x1="96.5" y1="292.50" x2="570.8" y2="292.50" stroke="#e0e0e0" stroke-opacity="0.45" stroke-width="0.8" stroke-dasharray="2.4,1.56" stroke-dashoffset="3.12"/>
<line x1="96.5" y1="472.50" x2="570.8" y2="472.50" stroke="#e0e0e0" stroke-opacity="0.45" stroke-width="0.8" stroke-dasharray="2.4,1.56" stroke-dashoffset="3.12"/>
<line x1="96.5" y1="203.00" x2="570.8" y2="203.00" stroke="#000" stroke-opacity="0.85" stroke-width="1.4"/>
<line x1="96.5" y1="382.40" x2="570.8" y2="382.40" stroke="#000" stroke-opacity="0.85" stroke-width="1.4"/>
<line x1="96.5" y1="23.4" x2="96.5" y2="562.2" stroke="#262626" stroke-width="1.2"/>
<line x1="95.9" y1="561.6" x2="570.8" y2="561.6" stroke="#262626" stroke-width="1.2"/>
<line x1="120.50" y1="561.6" x2="120.50" y2="556.8000000000001" stroke="#262626" stroke-width="1.1"/>
<line x1="167.50" y1="561.6" x2="167.50" y2="556.8000000000001" stroke="#262626" stroke-width="1.1"/>
<line x1="215.50" y1="561.6" x2="215.50" y2="556.8000000000001" stroke="#262626" stroke-width="1.1"/>
<line x1="262.50" y1="561.6" x2="262.50" y2="556.8000000000001" stroke="#262626" stroke-width="1.1"/>
<line x1="309.50" y1="561.6" x2="309.50" y2="556.8000000000001" stroke="#262626" stroke-width="1.1"/>
<line x1="357.50" y1="561.6" x2="357.50" y2="556.8000000000001" stroke="#262626" stroke-width="1.1"/>
<line x1="404.50" y1="561.6" x2="404.50" y2="556.8000000000001" stroke="#262626" stroke-width="1.1"/>
<line x1="452.50" y1="561.6" x2="452.50" y2="556.8000000000001" stroke="#262626" stroke-width="1.1"/>
<line x1="499.50" y1="561.6" x2="499.50" y2="556.8000000000001" stroke="#262626" stroke-width="1.1"/>
<line x1="547.50" y1="561.6" x2="547.50" y2="556.8000000000001" stroke="#262626" stroke-width="1.1"/>
<line x1="96.5" y1="113.50" x2="101.3" y2="113.50" stroke="#262626" stroke-width="1.1"/>
<line x1="96.5" y1="292.50" x2="101.3" y2="292.50" stroke="#262626" stroke-width="1.1"/>
<line x1="96.5" y1="472.50" x2="101.3" y2="472.50" stroke="#262626" stroke-width="1.1"/>
<text x="91.90" y="119.20" font-size="15.63" fill="#262626" text-anchor="end" textLength="73.24" lengthAdjust="spacingAndGlyphs">COVID-19</text>
<text x="91.90" y="298.20" font-size="15.63" fill="#262626" text-anchor="end" textLength="69.14" lengthAdjust="spacingAndGlyphs">Influenza</text>
<text x="91.90" y="478.20" font-size="15.63" fill="#262626" text-anchor="end" textLength="30.41" lengthAdjust="spacingAndGlyphs">RSV</text>
<text x="333.20" y="15.80" font-size="20.67" fill="#262626" text-anchor="middle" textLength="360.54" lengthAdjust="spacingAndGlyphs">Pathway Activity Heatmap (ssGSEA)</text>
<text x="333.35" y="690.80" font-size="15.63" fill="#262626" text-anchor="middle" textLength="71.57" lengthAdjust="spacingAndGlyphs">Pathways</text>
<text transform="translate(11.80,293.90) rotate(-90)" font-size="15.63" fill="#262626" text-anchor="middle" textLength="64.49" lengthAdjust="spacingAndGlyphs">Samples</text>
<text transform="translate(683.80,293.00) rotate(-90)" font-size="15.63" fill="#262626" text-anchor="middle" textLength="115.63" lengthAdjust="spacingAndGlyphs">ssGSEA z-score</text>
<text transform="translate(118.59,572.44) rotate(-45)" font-size="11.70" fill="#262626" text-anchor="end" textLength="111.70" lengthAdjust="spacingAndGlyphs">Interferon Signaling</text>
<text transform="translate(166.02,572.44) rotate(-45)" font-size="11.70" fill="#262626" text-anchor="end" textLength="119.50" lengthAdjust="spacingAndGlyphs">Chemokine Signaling</text>
<text transform="translate(213.45,572.44) rotate(-45)" font-size="11.70" fill="#262626" text-anchor="end" textLength="90.10" lengthAdjust="spacingAndGlyphs">T cell Activation</text>
<text transform="translate(260.88,572.44) rotate(-45)" font-size="11.70" fill="#262626" text-anchor="end" textLength="109.70" lengthAdjust="spacingAndGlyphs">NK cell Cytotoxicity</text>
<text transform="translate(308.31,572.44) rotate(-45)" font-size="11.70" fill="#262626" text-anchor="end" textLength="142.94" lengthAdjust="spacingAndGlyphs">Neutrophil Degranulation</text>
<text transform="translate(355.74,572.44) rotate(-45)" font-size="11.70" fill="#262626" text-anchor="end" textLength="114.36" lengthAdjust="spacingAndGlyphs">Platelet/Coagulation</text>
<text transform="translate(403.17,572.44) rotate(-45)" font-size="11.70" fill="#262626" text-anchor="end" textLength="116.84" lengthAdjust="spacingAndGlyphs">AP-1/MAPK Signaling</text>
<text transform="translate(450.60,572.44) rotate(-45)" font-size="11.70" fill="#262626" text-anchor="end" textLength="118.79" lengthAdjust="spacingAndGlyphs">Endothelial Adhesion</text>
<text transform="translate(498.03,572.44) rotate(-45)" font-size="11.70" fill="#262626" text-anchor="end" textLength="75.99" lengthAdjust="spacingAndGlyphs">Glycosylation</text>
<text transform="translate(545.46,572.44) rotate(-45)" font-size="11.70" fill="#262626" text-anchor="end" textLength="118.30" lengthAdjust="spacingAndGlyphs">Antigen Presentation</text>
<defs><linearGradient id="cb" x1="0" y1="1" x2="0" y2="0">
<stop offset="0.0000" stop-color="#4a0e5e"/>
<stop offset="0.0167" stop-color="#4b1162"/>
<stop offset="0.0333" stop-color="#4c1466"/>
<stop offset="0.0500" stop-color="#4c186b"/>
<stop offset="0.0667" stop-color="#4b1d70"/>
<stop offset="0.0833" stop-color="#4b2176"/>
<stop offset="0.1000" stop-color="#4a267b"/>
<stop offset="0.1167" stop-color="#4a2b80"/>
<stop offset="0.1333" stop-color="#473183"/>
<stop offset="0.1500" stop-color="#453786"/>
<stop offset="0.1667" stop-color="#423e88"/>
<stop offset="0.1833" stop-color="#40448b"/>
<stop offset="0.2000" stop-color="#3e498c"/>
<stop offset="0.2167" stop-color="#3c4e8d"/>
<stop offset="0.2333" stop-color="#3a538d"/>
<stop offset="0.2500" stop-color="#38588e"/>
<stop offset="0.2667" stop-color="#365d8e"/>
<stop offset="0.2833" stop-color="#34628e"/>
<stop offset="0.3000" stop-color="#32668e"/>
<stop offset="0.3167" stop-color="#316b8e"/>
<stop offset="0.3333" stop-color="#2f6f8e"/>
<stop offset="0.3500" stop-color="#31748e"/>
<stop offset="0.3667" stop-color="#33788e"/>
<stop offset="0.3833" stop-color="#357d8e"/>
<stop offset="0.4000" stop-color="#37818e"/>
<stop offset="0.4167" stop-color="#39868e"/>
<stop offset="0.4333" stop-color="#3b8a8d"/>
<stop offset="0.4500" stop-color="#3d8f8d"/>
<stop offset="0.4667" stop-color="#40938c"/>
<stop offset="0.4833" stop-color="#42988c"/>
<stop offset="0.5000" stop-color="#439c8b"/>
<stop offset="0.5167" stop-color="#45a18a"/>
<stop offset="0.5333" stop-color="#46a589"/>
<stop offset="0.5500" stop-color="#47aa88"/>
<stop offset="0.5667" stop-color="#49af88"/>
<stop offset="0.5833" stop-color="#4ab687"/>
<stop offset="0.6000" stop-color="#4bbc86"/>
<stop offset="0.6167" stop-color="#4cc285"/>
<stop offset="0.6333" stop-color="#4dc983"/>
<stop offset="0.6500" stop-color="#4dce7f"/>
<stop offset="0.6667" stop-color="#4dd47a"/>
<stop offset="0.6833" stop-color="#4ed976"/>
<stop offset="0.7000" stop-color="#4ede71"/>
<stop offset="0.7167" stop-color="#4ee36d"/>
<stop offset="0.7333" stop-color="#4de768"/>
<stop offset="0.7500" stop-color="#4deb63"/>
<stop offset="0.7667" stop-color="#4cef5e"/>
<stop offset="0.7833" stop-color="#50f258"/>
<stop offset="0.8000" stop-color="#5ef251"/>
<stop offset="0.8167" stop-color="#6cf24a"/>
<stop offset="0.8333" stop-color="#7af242"/>
<stop offset="0.8500" stop-color="#88f23b"/>
<stop offset="0.8667" stop-color="#95f138"/>
<stop offset="0.8833" stop-color="#a2f036"/>
<stop offset="0.9000" stop-color="#afef34"/>
<stop offset="0.9167" stop-color="#bcef31"/>
<stop offset="0.9333" stop-color="#c8ee31"/>
<stop offset="0.9500" stop-color="#d2ef33"/>
<stop offset="0.9667" stop-color="#dcef35"/>
<stop offset="0.9833" stop-color="#e6f038"/>
<stop offset="1.0000" stop-color="#f0f03a"/>
</linearGradient></defs>
<rect x="600.1" y="23.4" width="27.00" height="538.30" fill="url(#cb)" stroke="#262626" stroke-width="1.2"/>
<line x1="622.3000000000001" y1="63.30" x2="627.1" y2="63.30" stroke="#262626" stroke-width="1.1"/>
<text x="631.00" y="68.90" font-size="15.63" fill="#262626" text-anchor="start" textLength="24.01" lengthAdjust="spacingAndGlyphs">2.0</text>
<line x1="622.3000000000001" y1="142.66" x2="627.1" y2="142.66" stroke="#262626" stroke-width="1.1"/>
<text x="631.00" y="148.26" font-size="15.63" fill="#262626" text-anchor="start" textLength="24.01" lengthAdjust="spacingAndGlyphs">1.5</text>
<line x1="622.3000000000001" y1="222.03" x2="627.1" y2="222.03" stroke="#262626" stroke-width="1.1"/>
<text x="631.00" y="227.63" font-size="15.63" fill="#262626" text-anchor="start" textLength="24.01" lengthAdjust="spacingAndGlyphs">1.0</text>
<line x1="622.3000000000001" y1="301.39" x2="627.1" y2="301.39" stroke="#262626" stroke-width="1.1"/>
<text x="631.00" y="307.00" font-size="15.63" fill="#262626" text-anchor="start" textLength="24.01" lengthAdjust="spacingAndGlyphs">0.5</text>
<line x1="622.3000000000001" y1="380.76" x2="627.1" y2="380.76" stroke="#262626" stroke-width="1.1"/>
<text x="631.00" y="386.36" font-size="15.63" fill="#262626" text-anchor="start" textLength="24.01" lengthAdjust="spacingAndGlyphs">0.0</text>
<line x1="622.3000000000001" y1="460.12" x2="627.1" y2="460.12" stroke="#262626" stroke-width="1.1"/>
<text x="631.00" y="465.73" font-size="15.63" fill="#262626" text-anchor="start" textLength="36.67" lengthAdjust="spacingAndGlyphs">−0.5</text>
<line x1="622.3000000000001" y1="539.49" x2="627.1" y2="539.49" stroke="#262626" stroke-width="1.1"/>
<text x="631.00" y="545.09" font-size="15.63" fill="#262626" text-anchor="start" textLength="36.67" lengthAdjust="spacingAndGlyphs">−1.0</text>
</svg></body></html>
